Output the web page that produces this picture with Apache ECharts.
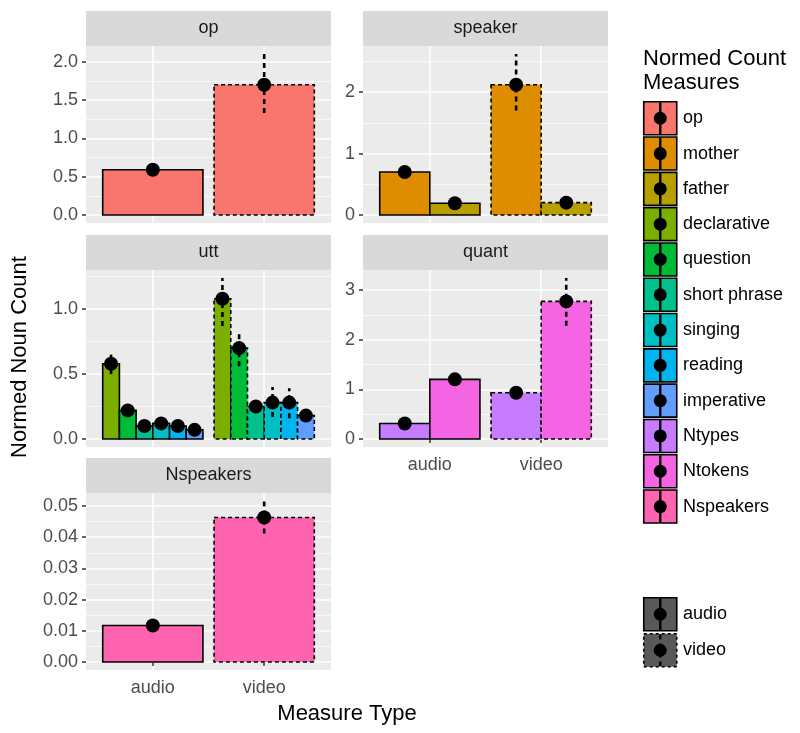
<!DOCTYPE html>
<html>
<head>
<meta charset="utf-8">
<script src="https://cdn.jsdelivr.net/npm/echarts@6/dist/echarts.min.js"></script>
<style>
html,body{margin:0;padding:0;background:#fff;}
#chart{width:800px;height:733px;}
</style>
</head>
<body>
<div id="chart"></div>
<script>
// ---------- data ----------
const measureTypes = ['audio', 'video'];
const measures = ['op', 'mother', 'father', 'declarative', 'question', 'short phrase',
  'singing', 'reading', 'imperative', 'Ntypes', 'Ntokens', 'Nspeakers'];
const measureColors = ['#F8766D', '#DE8C00', '#B79F00', '#7CAE00', '#00BA38', '#00C08B',
  '#00BFC4', '#00B4F0', '#619CFF', '#C77CFF', '#F564E3', '#FF64B0'];

const meanAudio = [0.59, 0.70, 0.19, 0.58, 0.22, 0.10, 0.12, 0.10, 0.07, 0.31, 1.20, 0.0117];
const lowAudio  = [0.54, 0.65, 0.16, 0.50, 0.19, 0.08, 0.10, 0.08, 0.05, 0.26, 1.12, 0.0108];
const highAudio = [0.64, 0.75, 0.22, 0.65, 0.25, 0.12, 0.14, 0.12, 0.09, 0.36, 1.28, 0.0126];

const meanVideo = [1.70, 2.12, 0.20, 1.08, 0.70, 0.25, 0.28, 0.28, 0.18, 0.93, 2.77, 0.0463];
const lowVideo  = [1.33, 1.70, 0.15, 0.87, 0.56, 0.21, 0.17, 0.16, 0.14, 0.85, 2.28, 0.0412];
const highVideo = [2.10, 2.62, 0.25, 1.24, 0.83, 0.29, 0.40, 0.39, 0.22, 1.01, 3.24, 0.0516];

const panelNames = ['op', 'speaker', 'utt', 'quant', 'Nspeakers'];
const panelMeasures = [
  ['op'],
  ['mother', 'father'],
  ['declarative', 'question', 'short phrase', 'singing', 'reading', 'imperative'],
  ['Ntypes', 'Ntokens'],
  ['Nspeakers']
];
const ticksOp = [0, 0.5, 1, 1.5, 2];
const ticksSpeaker = [0, 1, 2];
const ticksUtt = [0, 0.5, 1];
const ticksQuant = [0, 1, 2, 3];
const ticksNspeakers = [0, 0.01, 0.02, 0.03, 0.04, 0.05];
const panelTicks = [ticksOp, ticksSpeaker, ticksUtt, ticksQuant, ticksNspeakers];
const panelDecimals = [1, 0, 1, 0, 2];

// ---------- layout ----------
const FONT = '"Liberation Sans", Arial, Helvetica, sans-serif';
const colLeft = [86, 363];
const rowTop = [46, 270, 493];
const PW = 245, PH = 177, STRIP = 35;
const panelPos = [[0, 0], [1, 0], [0, 1], [1, 1], [0, 2]]; // [col,row]
const showXLabels = [false, false, false, true, true];

const grids = [], xAxes = [], yAxes = [], series = [], graphics = [];

function renderBar(params, api) {
  const x = api.value(0), v = api.value(1), k = api.value(4), n = api.value(5);
  const w = 0.9 / n;
  const x0 = x - 0.45 + k * w, x1 = x0 + w;
  const p0 = api.coord([x0, v]);
  const p1 = api.coord([x1, 0]);
  const dashed = api.value(7) === 1;
  return {
    type: 'rect',
    shape: { x: p0[0], y: p0[1], width: p1[0] - p0[0], height: p1[1] - p0[1] },
    style: { fill: measureColors[api.value(6)], stroke: '#000', lineWidth: 1.6,
      lineDash: dashed ? [4, 3] : null }
  };
}
function renderPoint(params, api) {
  const x = api.value(0), k = api.value(4), n = api.value(5);
  const w = 0.9 / n;
  const xc = x - 0.45 + (k + 0.5) * w;
  const pm = api.coord([xc, api.value(1)]);
  const pl = api.coord([xc, api.value(2)]);
  const ph = api.coord([xc, api.value(3)]);
  const dashed = api.value(7) === 1;
  return {
    type: 'group',
    children: [
      { type: 'line', shape: { x1: pl[0], y1: pl[1], x2: ph[0], y2: ph[1] },
        style: { stroke: '#000', lineWidth: 2.6, lineDash: dashed ? [5, 4] : null } },
      { type: 'circle', shape: { cx: pm[0], cy: pm[1], r: 7 }, style: { fill: '#000' } }
    ]
  };
}

panelNames.forEach((name, p) => {
  const [c, r] = panelPos[p];
  const left = colLeft[c], top = rowTop[r];
  grids.push({ left: left, top: top, width: PW, height: PH, show: true,
    backgroundColor: '#EBEBEB', borderWidth: 0, containLabel: false });

  // data for this panel
  const items = [];
  let maxHi = 0;
  const ms = panelMeasures[p];
  ms.forEach((m, k) => {
    const mi = measures.indexOf(m);
    maxHi = Math.max(maxHi, highAudio[mi], highVideo[mi]);
    items.push([1, meanAudio[mi], lowAudio[mi], highAudio[mi], k, ms.length, mi, 0]);
    items.push([2, meanVideo[mi], lowVideo[mi], highVideo[mi], k, ms.length, mi, 1]);
  });
  const ymin = -0.05 * maxHi, ymax = 1.05 * maxHi;
  const ticks = panelTicks[p];
  const step = ticks[1] - ticks[0];
  const minors = [];
  for (let i = -1; i < ticks.length; i++) {
    const mv = ticks[0] + (i + 0.5) * step;
    if (mv > ymin && mv < ymax) minors.push(+mv.toFixed(6));
  }
  const dec = panelDecimals[p];

  xAxes.push({
    type: 'value', gridIndex: p, min: 0.4, max: 2.6,
    axisLine: { show: false },
    axisTick: { show: showXLabels[p], customValues: [1, 2], length: 4,
      lineStyle: { color: '#333333', width: 1.5 } },
    axisLabel: { show: showXLabels[p], customValues: [1, 2], margin: 9,
      formatter: v => measureTypes[Math.round(v) - 1] || '',
      color: '#4D4D4D', fontSize: 18, fontFamily: FONT },
    splitLine: { show: true, lineStyle: { color: '#FFFFFF', width: 1.5 } }
  });
  yAxes.push({
    type: 'value', gridIndex: p, min: ymin, max: ymax,
    axisLine: { show: false },
    axisTick: { show: true, customValues: ticks, length: 4,
      lineStyle: { color: '#333333', width: 1.5 } },
    axisLabel: { show: true, customValues: ticks, margin: 8,
      formatter: v => v.toFixed(dec),
      color: '#4D4D4D', fontSize: 18, fontFamily: FONT },
    splitLine: { show: true, lineStyle: { color: '#FFFFFF', width: 1.5 } },
    z: 1
  });
  // minor grid axis
  yAxes.push({
    type: 'value', gridIndex: p, min: ymin, max: ymax, position: 'left',
    axisLine: { show: false },
    axisTick: { show: false, customValues: minors },
    axisLabel: { show: false, customValues: minors },
    splitLine: { show: true, lineStyle: { color: '#FFFFFF', width: 0.7 } },
    z: 0
  });
  const yIdx = yAxes.length - 2;
  series.push({
    type: 'custom', name: name + '-bars', xAxisIndex: p, yAxisIndex: yIdx,
    renderItem: renderBar, data: items, encode: { x: 0, y: 1 }, z: 3, clip: false,
    animation: false
  });
  series.push({
    type: 'custom', name: name + '-points', xAxisIndex: p, yAxisIndex: yIdx,
    renderItem: renderPoint, data: items, encode: { x: 0, y: [1, 2, 3] }, z: 4, clip: false,
    animation: false
  });

  // strip
  graphics.push({ type: 'rect', left: left, top: top - STRIP, shape: { width: PW, height: STRIP },
    style: { fill: '#D9D9D9' }, silent: true });
  graphics.push({ type: 'text', x: left + PW / 2, y: top - STRIP / 2,
    style: { text: name, fill: '#1A1A1A', font: '18px ' + FONT, align: 'center', verticalAlign: 'middle' },
    silent: true });
});

// axis titles
graphics.push({ type: 'text', x: 347, y: 714,
  style: { text: 'Measure Type', fill: '#000', font: '22px ' + FONT, align: 'center', verticalAlign: 'middle' } });
graphics.push({ type: 'text', x: 20, y: 357, rotation: Math.PI / 2,
  style: { text: 'Normed Noun Count', fill: '#000', font: '22px ' + FONT, align: 'center', verticalAlign: 'middle' } });

// legend: fill
const LX = 643, KEY = 33, LSTEP = 35.3, LTOP = 101;
graphics.push({ type: 'text', x: LX, y: 59,
  style: { text: 'Normed Count', fill: '#000', font: '22px ' + FONT, verticalAlign: 'middle' } });
graphics.push({ type: 'text', x: LX, y: 83,
  style: { text: 'Measures', fill: '#000', font: '22px ' + FONT, verticalAlign: 'middle' } });
function legendKey(y, fill, dashed, label) {
  graphics.push({ type: 'rect', x: LX + 0.75, y: y + 0.75, shape: { width: KEY, height: KEY },
    style: { fill: fill, stroke: '#000', lineWidth: 1.6, lineDash: dashed ? [3, 3] : null } });
  graphics.push({ type: 'line', shape: { x1: LX + KEY / 2 + 0.75, y1: y + 1.5, x2: LX + KEY / 2 + 0.75, y2: y + KEY },
    style: { stroke: '#000', lineWidth: 2.4, lineDash: dashed ? [5, 4] : null } });
  graphics.push({ type: 'circle', shape: { cx: LX + KEY / 2 + 0.75, cy: y + KEY / 2 + 0.75, r: 6.5 },
    style: { fill: '#000' } });
  graphics.push({ type: 'text', x: LX + 40, y: y + KEY / 2 + 0.75,
    style: { text: label, fill: '#000', font: '18px ' + FONT, verticalAlign: 'middle' } });
}
measures.forEach((m, i) => legendKey(LTOP + i * LSTEP, measureColors[i], false, m));
// legend: linetype
measureTypes.forEach((t, i) => legendKey(597 + i * 36, '#595959', i === 1, t));

const chart = echarts.init(document.getElementById('chart'), null, { renderer: 'canvas' });
chart.setOption({
  animation: false,
  backgroundColor: '#FFFFFF',
  grid: grids,
  xAxis: xAxes,
  yAxis: yAxes,
  series: series,
  graphic: { elements: graphics }
});
</script>
</body>
</html>
